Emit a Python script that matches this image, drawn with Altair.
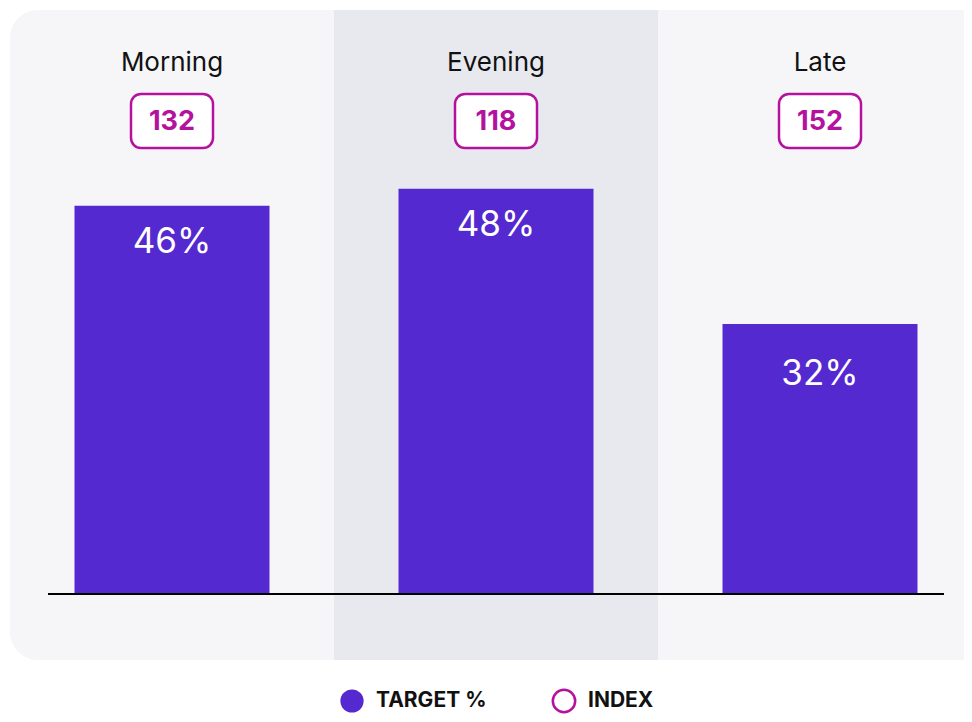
import altair as alt
import pandas as pd

# ---- data ----
categories = ["Morning", "Evening", "Late"]
target_pct = [46, 48, 32]
index_values = [132, 118, 152]
legend_labels = ["TARGET %", "INDEX"]
highlight = ["Evening"]

PURPLE = "#5429d0"
MAGENTA = "#b4129e"
PANEL = "#f6f6f9"
SHADE = "#e8e9ef"

df = pd.DataFrame({
    "category": categories,
    "target": target_pct,
    "index": index_values,
})
df["pct_label"] = [f"{v}%" for v in target_pct]
df["index_label"] = [str(v) for v in index_values]

xscale = alt.Scale(domain=categories, range=[2, 974], paddingInner=0, paddingOuter=0)
yscale = alt.Scale(domain=[0, 69.43], range=[586, 0], nice=False, zero=True)
X = alt.X("category:N", scale=xscale, axis=None, sort=categories)
Y = alt.Y("target:Q", scale=yscale, axis=None)

base = alt.Chart(df)

panel = base.transform_filter(alt.datum.category == categories[0]).mark_rect(
    cornerRadius=28, color=PANEL
).encode(x=alt.value(2), x2=alt.value(980), y=alt.value(2), y2=alt.value(652))

shade = base.transform_filter(
    alt.FieldOneOfPredicate(field="category", oneOf=highlight)
).mark_rect(color=SHADE).encode(x=X, y=alt.value(2), y2=alt.value(652))

bars = base.mark_bar(width=195, color=PURPLE).encode(x=X, y=Y)

pct_style = dict(color="white", fontSize=35, fontWeight="normal", baseline="middle",
                 align="center", font="Inter")
pct_text_hi = base.transform_filter(alt.datum.target >= 40).mark_text(
    dy=36.5, **pct_style
).encode(x=X, y=Y, text="pct_label:N")
pct_text_lo = base.transform_filter(alt.datum.target < 40).mark_text(
    dy=50, **pct_style
).encode(x=X, y=Y, text="pct_label:N")

baseline = base.transform_filter(alt.datum.category == categories[0]).mark_rule(
    color="black", strokeWidth=2
).encode(y=alt.datum(0, scale=yscale), x=alt.value(40), x2=alt.value(936))

cat_text = base.mark_text(
    fontSize=26, color="#111111", baseline="middle", align="center", font="Inter"
).encode(x=X, y=alt.value(55), text="category:N")

boxes = base.mark_bar(
    width=82, cornerRadius=10, fill="white", stroke=MAGENTA, strokeWidth=2.5
).encode(x=X, y=alt.value(86), y2=alt.value(140))

idx_text = base.mark_text(
    fontSize=27, fontWeight="bold", color=MAGENTA, baseline="middle", align="center", font="Inter"
).encode(x=X, y=alt.value(114), text="index_label:N")

leg_df = pd.DataFrame({"label": legend_labels})
leg_base = alt.Chart(leg_df)

LEG_Y = 693
leg_dot1 = leg_base.transform_filter(alt.datum.label == legend_labels[0]).mark_point(
    shape="circle", filled=True, size=540, color=PURPLE, opacity=1
).encode(x=alt.value(344), y=alt.value(LEG_Y))
leg_dot2 = leg_base.transform_filter(alt.datum.label == legend_labels[1]).mark_point(
    shape="circle", filled=False, size=500, color=MAGENTA, strokeWidth=2.5, opacity=1
).encode(x=alt.value(556), y=alt.value(LEG_Y))
leg_t1 = leg_base.transform_filter(alt.datum.label == legend_labels[0]).mark_text(
    fontSize=21, fontWeight="bold", color="#111111", align="left", baseline="middle", font="Inter"
).encode(x=alt.value(368), y=alt.value(LEG_Y), text="label:N")
leg_t2 = leg_base.transform_filter(alt.datum.label == legend_labels[1]).mark_text(
    fontSize=21, fontWeight="bold", color="#111111", align="left", baseline="middle", font="Inter"
).encode(x=alt.value(580), y=alt.value(LEG_Y), text="label:N")

chart = alt.layer(
    panel, shade, bars, pct_text_hi, pct_text_lo, baseline, cat_text, boxes, idx_text,
    leg_dot1, leg_dot2, leg_t1, leg_t2
).properties(
    width=956, height=706, padding=0, autosize=alt.AutoSizeParams(type="none"),
    background="white"
).configure(font="Inter").configure_view(stroke=None, strokeWidth=0)

chart.save("out.html", embed_options={"renderer": "svg", "actions": False})
